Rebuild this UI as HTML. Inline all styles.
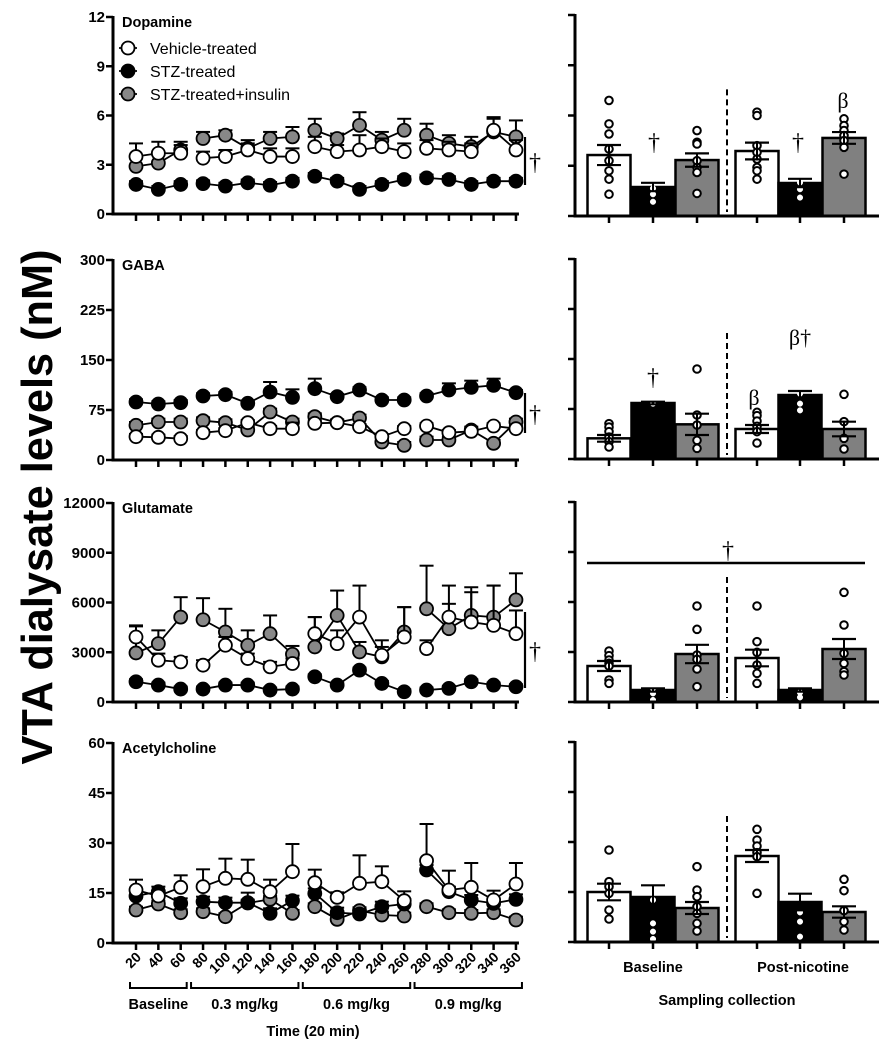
<!DOCTYPE html>
<html><head><meta charset="utf-8"><style>
html,body{margin:0;padding:0;background:#fff}
svg{display:block;font-family:"Liberation Sans",Arial,sans-serif}
</style></head><body>
<svg id="fig" width="895" height="1050" viewBox="0 0 895 1050" xmlns="http://www.w3.org/2000/svg"></svg>
<script>
// ---------- DATA ----------
const timeLabels = ['20','40','60','80','100','120','140','160','180','200','220','240','260','280','300','320','340','360'];
const groupLabels = ['Baseline','0.3 mg/kg','0.6 mg/kg','0.9 mg/kg'];
const groupRanges = [[0,2],[3,7],[8,12],[13,17]];
const seriesNames = ['Vehicle-treated','STZ-treated','STZ-treated+insulin'];
const barCategories = ['Baseline','Post-nicotine'];

const daTicks = [0,3,6,9,12];
const daVeh = [3.5,3.7,3.7, 3.4,3.5,3.9,3.5,3.5, 4.1,3.8,3.9,4.1,3.8, 4.0,3.9,3.8,5.1,3.9];
const daVehErr = [0.8,0.7,0.5, 0.4,0.4,0.6,0.5,0.5, 0.6,0.4,0.9,0.5,0.5, 0.5,0.5,0.5,0.7,0.6];
const daStz = [1.8,1.5,1.8, 1.85,1.7,1.9,1.75,2.0, 2.3,2.0,1.5,1.8,2.1, 2.2,2.1,1.8,2.0,2.0];
const daStzErr = [0.2,0.2,0.2, 0.2,0.2,0.2,0.2,0.2, 0.2,0.2,0.2,0.2,0.2, 0.2,0.2,0.2,0.2,0.2];
const daIns = [2.9,3.1,3.9, 4.6,4.8,4.0,4.6,4.7, 5.1,4.6,5.4,4.5,5.1, 4.8,4.3,4.1,5.0,4.7];
const daInsErr = [0.5,0.5,0.5, 0.4,0.3,0.3,0.4,0.6, 0.7,0.3,0.8,0.5,0.7, 0.7,0.5,0.6,0.9,1.0];
const daBars = [3.64,1.73,3.34, 3.88,1.97,4.66];
const daBarErr = [0.6,0.25,0.4, 0.5,0.25,0.35];
const daDots = [[6.9,5.5,4.9,4.0,3.3,2.7,2.2,1.3],[3.4,2.4,2.0,1.65,1.3,0.85],[5.1,4.4,4.3,3.3,2.9,2.6,1.35],[6.2,6.0,4.2,3.8,3.4,2.9,2.7,2.2],[3.5,2.4,2.0,1.6,1.1],[5.8,5.4,5.1,4.8,4.5,4.1,2.5]];

const gaTicks = [0,75,150,225,300];
const gaVeh = [35,34,32, 41,44,56,47,47, 55,56,50,35,47, 51,41,43,51,47];
const gaVehErr = [4,4,4, 4,4,4,4,9, 4,4,4,4,4, 4,4,4,4,4];
const gaStz = [87,84,86, 96,98,85,102,94, 107,95,105,90,90, 96,105,109,112,101];
const gaStzErr = [4,4,4, 4,4,4,15,12, 15,4,4,4,4, 4,10,10,10,4];
const gaIns = [52,57,57, 59,56,45,72,57, 65,56,63,27,22, 30,30,45,25,57];
const gaInsErr = [5,5,5, 5,5,5,5,5, 5,5,5,5,5, 5,5,5,5,5];
const gaBars = [31,84,52, 45,96,45];
const gaBarErr = [5,2,16, 6,6,11];
const gaDots = [[53,48,41,33,26,18],[97,92,88,85,83],[135,66,51,28,16],[70,65,57,49,41,24],[155,114,103,98,83,73],[97,56,31,15]];

const glTicks = [0,3000,6000,9000,12000];
const glVeh = [3920,2520,2420, 2220,3420,2620,2120,2320, 4120,3520,5120,2820,3920, 3220,5120,4820,4620,4120];
const glVehErr = [700,400,300, 300,500,300,300,300, 1000,800,1900,500,1800, 500,800,1800,2400,1400];
const glStz = [1220,1020,780, 780,1020,1020,720,780, 1520,1020,1920,1120,620, 720,820,1220,1020,920];
const glStzErr = [150,150,150, 150,150,150,150,150, 150,150,150,150,150, 150,150,150,150,150];
const glIns = [2960,3520,5120, 4960,4220,3420,4120,2880, 3320,5220,3020,2720,4220, 5620,4420,5220,5120,6160];
const glInsErr = [1600,800,1200, 1300,1400,900,1100,500, 1800,1500,600,1000,1500, 2600,2600,1700,1900,1600];
const glBars = [2160,720,2880, 2640,720,3180];
const glBarErr = [300,100,550, 500,100,600];
const glDots = [[3060,2780,2520,2320,2160,1320,1120],[1080,820,520,120],[5760,4360,2820,2560,1980,920],[5760,3620,2980,2220,1720,1120],[1160,920,560,280],[6580,4620,2920,2320,1820,1620]];

const acTicks = [0,15,30,45,60];
const acVeh = [15.9,14.1,16.7, 16.9,19.4,19.1,15.4,21.4, 18.1,13.7,17.9,18.4,12.7, 24.7,15.9,16.7,12.9,17.7];
const acVehErr = [3.1,1.5,3.6, 5.2,5.9,5.9,3.6,8.3, 3.9,1.5,8.4,4.6,2.8, 11.0,5.8,7.3,2.8,6.3];
const acStz = [14.1,15.4,11.9, 12.4,12.1,12.1,8.9,12.7, 14.9,9.1,8.7,10.9,11.7, 21.9,15.4,12.9,11.9,13.1];
const acStzErr = [1.5,1.5,1.5, 1.5,1.5,3.0,1.5,1.5, 1.5,1.5,1.5,1.5,1.5, 1.5,1.5,1.5,1.5,1.5];
const acIns = [9.9,11.7,9.1, 9.4,7.9,12.0,13.1,8.9, 10.9,7.1,9.7,8.4,8.1, 10.9,9.1,8.9,9.1,6.9];
const acInsErr = [1,1,1, 1,1,1,1,1, 1,1,1,1,1, 1,1,1,1,1];
const acBars = [15,13.5,10.2, 25.8,12,9];
const acBarErr = [2.5,3.5,1.8, 1.8,2.5,1.7];
const acDots = [[27.6,18.1,16.6,14.6,9.6,6.9],[29.6,28.8,25.6,15.1,12.6,5.6,3.1,0.9],[22.6,15.6,13.6,10.6,8.6,5.6,3.3],[33.8,30.6,28.8,26.8,25.6,14.6],[27.9,16.4,13.6,8.9,6.1,1.6],[18.8,15.4,9.4,6.1,3.6]];

// ---------- RENDER ----------
const NS='http://www.w3.org/2000/svg';
const svg=document.getElementById('fig');
function mk(tag,attrs,parent){const e=document.createElementNS(NS,tag);for(const k in attrs)e.setAttribute(k,attrs[k]);(parent||svg).appendChild(e);return e;}
const COLORS=['#ffffff','#000000','#888888'];

const panels=[
 {key:'dopamine',title:'Dopamine',ticks:daTicks,series:[daVeh,daStz,daIns],errs:[daVehErr,daStzErr,daInsErr],bars:daBars,barErr:daBarErr,dots:daDots,top:17,bot:214,rtop:15,rbot:216,sig:[137,185]},
 {key:'gaba',title:'GABA',ticks:gaTicks,series:[gaVeh,gaStz,gaIns],errs:[gaVehErr,gaStzErr,gaInsErr],bars:gaBars,barErr:gaBarErr,dots:gaDots,top:260,bot:460,rtop:259,rbot:459,sig:[393,433]},
 {key:'glutamate',title:'Glutamate',ticks:glTicks,series:[glVeh,glStz,glIns],errs:[glVehErr,glStzErr,glInsErr],bars:glBars,barErr:glBarErr,dots:glDots,top:503,bot:702,rtop:502,rbot:702,sig:[612,688]},
 {key:'acetylcholine',title:'Acetylcholine',ticks:acTicks,series:[acVeh,acStz,acIns],errs:[acVehErr,acStzErr,acInsErr],bars:acBars,barErr:acBarErr,dots:acDots,top:743,bot:943,rtop:742,rbot:942,sig:null}
];
const AX=113, X0=136, DX=22.35;
const xL=i=>X0+i*DX;
const barX=[609,653,697,757,800,844], BW=43;

panels.forEach((p,pi)=>{
  const g=mk('g',{});
  
  
  const max=p.ticks[p.ticks.length-1];
  const y=v=>p.bot-(v/max)*(p.bot-p.top);
  const ya=mk('line',{x1:AX,y1:p.top-1,x2:AX,y2:p.bot+1.5,stroke:'#000','stroke-width':3},g);
  
  
  p.ticks.forEach(t=>{
    mk('line',{x1:AX-7,y1:y(t),x2:AX,y2:y(t),stroke:'#000','stroke-width':2.5},g);
    const tl=mk('text',{x:AX-8,y:y(t)+5,'text-anchor':'end','font-size':15,'font-weight':'bold'},g);
    tl.textContent=t;
    
    
  });
  const xa=mk('line',{x1:AX-1.5,y1:p.bot,x2:xL(17)+3,y2:p.bot,stroke:'#000','stroke-width':3},g);
  
  
  timeLabels.forEach((l,i)=>mk('line',{x1:xL(i),y1:p.bot,x2:xL(i),y2:p.bot+7,stroke:'#000','stroke-width':2.5},g));
  const tt=mk('text',{x:122,y:p.top+10,'font-size':14.5,'font-weight':'bold'},g);
  tt.textContent=p.title;
  
  
  [2,1,0].forEach(si=>{
    const s=p.series[si], e=p.errs[si];
    const sg=mk('g',{},g);
    
    
    s.forEach((v,i)=>{
      const yt=y(v+e[i]);
      mk('line',{x1:xL(i),y1:y(v),x2:xL(i),y2:yt,stroke:'#000','stroke-width':2},sg);
      mk('line',{x1:xL(i)-7,y1:yt,x2:xL(i)+7,y2:yt,stroke:'#000','stroke-width':2},sg);
    });
    groupRanges.forEach(r=>{
      let d='';
      for(let i=r[0];i<=r[1];i++)d+=(i===r[0]?'M':'L')+xL(i)+','+y(s[i]);
      mk('path',{d:d,fill:'none',stroke:'#000','stroke-width':1.8},sg);
    });
    s.forEach((v,i)=>{
      const c=mk('circle',{cx:xL(i),cy:y(v),r:6.5,fill:COLORS[si],stroke:'#000','stroke-width':1.8},sg);
      
      
    });
  });
  if(p.sig){
    mk('line',{x1:525,y1:p.sig[0],x2:525,y2:p.sig[1],stroke:'#000','stroke-width':2.2},g);
    const d=mk('text',{x:529,y:(p.sig[0]+p.sig[1])/2+9,'font-size':24,'font-family':'Liberation Serif, serif'},g);
    d.textContent='†';
    
    
  }

  const rg=mk('g',{});
  
  
  const yr=v=>p.rbot-(v/max)*(p.rbot-p.rtop);
  p.bars.forEach((v,i)=>{
    const b=mk('rect',{x:barX[i]-BW/2,y:yr(v),width:BW,height:p.rbot-yr(v),fill:['#fff','#000','#808080'][i%3],stroke:'#000','stroke-width':2.5},rg);
    
    
  });
  p.dots.forEach((arr,i)=>{
    const black=(i%3===1);
    arr.forEach(v=>{
      mk('circle',{cx:barX[i],cy:yr(v),r:black?2.8:3.8,fill:'#fff',stroke:black?'#fff':'#000','stroke-width':black?0.5:2},rg);
    });
  });
  p.bars.forEach((v,i)=>{
    const e=p.barErr[i];
    mk('line',{x1:barX[i],y1:yr(v+e),x2:barX[i],y2:yr(v-e),stroke:'#000','stroke-width':2},rg);
    [v+e,v-e].forEach(w=>mk('line',{x1:barX[i]-12,y1:yr(w),x2:barX[i]+12,y2:yr(w),stroke:'#000','stroke-width':2.2},rg));
  });
  mk('line',{x1:575,y1:p.rtop-1,x2:575,y2:p.rbot+1.5,stroke:'#000','stroke-width':3},rg);
  p.ticks.forEach(t=>mk('line',{x1:568,y1:yr(t),x2:575,y2:yr(t),stroke:'#000','stroke-width':2.5},rg));
  mk('line',{x1:573.5,y1:p.rbot,x2:879,y2:p.rbot,stroke:'#000','stroke-width':3},rg);
  barX.forEach(x=>mk('line',{x1:x,y1:p.rbot,x2:x,y2:p.rbot+7,stroke:'#000','stroke-width':2.5},rg));
  const dashTop = pi===2 ? yr(7500) : yr(max*0.63);
  mk('line',{x1:727,y1:dashTop,x2:727,y2:p.rbot-4,stroke:'#000','stroke-width':2,'stroke-dasharray':'6,4'},rg);
});

function ann(txt,x,y,serif,size){const t=mk('text',{x:x,y:y,'text-anchor':'middle','font-size':size||24,'font-family':serif?'Liberation Serif, serif':'Liberation Sans, sans-serif'});t.textContent=txt;return t;}
ann('†',654,150,true); ann('†',798,150,true); ann('β',843,108,true,22);
ann('†',653,385,true); ann('β†',800,345,true,22); ann('β',754,405,true,22);
mk('line',{x1:587,y1:563,x2:865,y2:563,stroke:'#000','stroke-width':2.5});
ann('†',728,558,true);

const legY=[48,71,94];
seriesNames.forEach((n,i)=>{
  const lg=mk('g',{});
  
  
  mk('line',{x1:119,y1:legY[i],x2:137,y2:legY[i],stroke:'#000','stroke-width':1.8},lg);
  mk('circle',{cx:128,cy:legY[i],r:6.5,fill:COLORS[i],stroke:'#000','stroke-width':1.8},lg);
  const t=mk('text',{x:150,y:legY[i]+6,'font-size':16},lg);
  t.textContent=n;
});

timeLabels.forEach((l,i)=>{
  const t=mk('text',{x:0,y:0,'text-anchor':'end','font-size':14,'font-weight':'bold',transform:'translate('+(xL(i)+6)+','+958+') rotate(-45)'});
  t.textContent=l;
  
  
});
groupRanges.forEach((r,gi)=>{
  const x1=xL(r[0])-(gi===0?6:12), x2=xL(r[1])+6;
  mk('path',{d:'M'+x1+',982 L'+x1+',988 L'+x2+',988 L'+x2+',982',fill:'none',stroke:'#000','stroke-width':2});
  const t=mk('text',{x:(x1+x2)/2,y:1009,'text-anchor':'middle','font-size':14.5,'font-weight':'bold'});
  t.textContent=groupLabels[gi];
  
  
});
let t=mk('text',{x:313,y:1036,'text-anchor':'middle','font-size':14.5,'font-weight':'bold'});
t.textContent='Time (20 min)';


[[653,'Baseline'],[803,'Post-nicotine']].forEach(c=>{
  const tx=mk('text',{x:c[0],y:972,'text-anchor':'middle','font-size':14.5,'font-weight':'bold'});
  tx.textContent=c[1];
  
  
});
t=mk('text',{x:727,y:1005,'text-anchor':'middle','font-size':14.5,'font-weight':'bold'});
t.textContent='Sampling collection';


t=mk('text',{x:0,y:0,'text-anchor':'middle','font-size':44,'font-weight':'bold',textLength:515,lengthAdjust:'spacingAndGlyphs',transform:'translate(52,507) rotate(-90)'});
t.textContent='VTA dialysate levels (nM)';


</script>
</body></html>
